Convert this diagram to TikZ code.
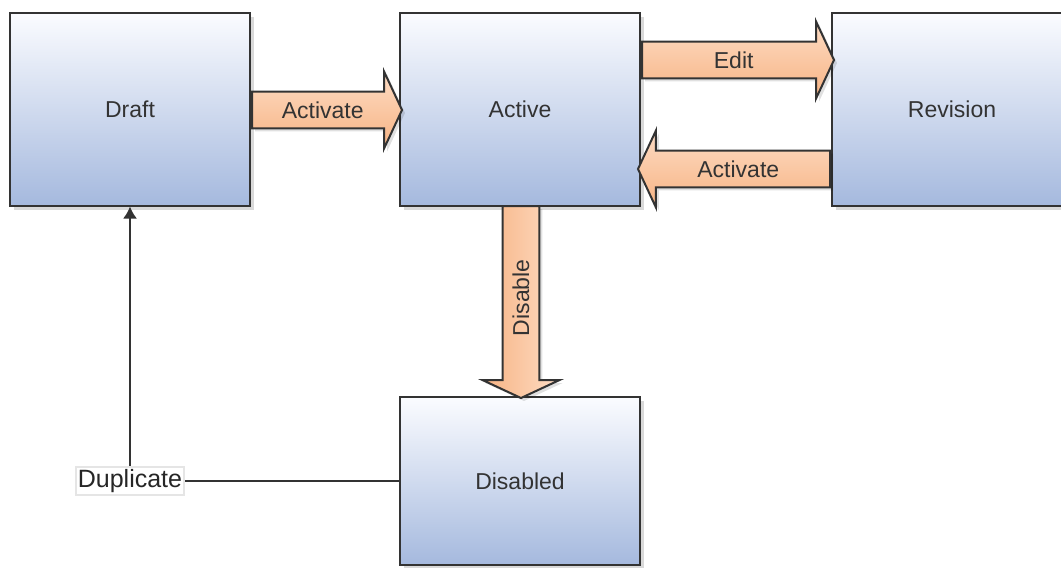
\documentclass[tikz,border=0pt]{standalone}
\usepackage{fontspec}
\setmainfont{Liberation Sans}
\usetikzlibrary{shapes.arrows,shadows,arrows.meta}
\definecolor{boxtop}{HTML}{FBFCFF}
\definecolor{boxbot}{HTML}{A5B9DE}
\definecolor{arrlight}{HTML}{FDDCC4}
\definecolor{arrdark}{HTML}{F7B383}
\definecolor{edge}{HTML}{333333}

\begin{document}
\begin{tikzpicture}[x=0.5pt,y=-0.5pt,
  state/.style={draw=edge, line width=1pt, top color=boxtop, bottom color=boxbot,
    minimum width=120pt, minimum height=96.5pt, inner sep=0pt, text=edge,
    drop shadow={shadow xshift=2pt, shadow yshift=-2pt, fill=black, opacity=0.15},
    font=\fontsize{11.5}{14}\selectfont},
  blockarrow/.style={single arrow, draw=edge, line width=1pt,
    top color=arrlight, bottom color=arrdark,
    single arrow head extend=10pt, single arrow tip angle=130,
    minimum width=19pt, inner xsep=0pt, inner ysep=4.5pt, anchor=tail, text=edge,
    drop shadow={shadow xshift=1.5pt, shadow yshift=-1.5pt, fill=black, opacity=0.12},
    font=\fontsize{11.5}{14}\selectfont},
  link/.style={draw=edge, line width=1pt, -{Latex[length=6pt,width=7pt]}},
  duplabel/.style={fill=white, draw=black!10, inner sep=1pt, text=black!85,
    font=\fontsize{12.5}{15}\selectfont}
]
\useasboundingbox (0,0) rectangle (1061,568);

% states
\node[state] (draft) at (130,109) {Draft};
\node[state] (active) at (520,109) {Active};
\node[state] (revision) at (952,109) {Revision};
\node[state, minimum height=84pt] (disabled) at (520,481) {Disabled};

% block arrows between states
\node[blockarrow, minimum height=75pt] (activate) at (draft.east |- 0,110) {Activate};
\node[blockarrow, minimum height=96pt] (edit) at (active.east |- 0,60) {Edit};
\node[blockarrow, minimum height=96pt, shape border rotate=180] (reactivate) at (revision.west |- 0,169) {Activate};
\node[blockarrow, minimum height=96pt, shape border rotate=180, rotate=90,
  left color=arrdark, right color=arrlight] (disable) at (521,205) {Disable};

% duplicate back to draft
\draw[link] (disabled.west) -| node[duplabel] (dup) {Duplicate} (draft.south);
\end{tikzpicture}
\end{document}
